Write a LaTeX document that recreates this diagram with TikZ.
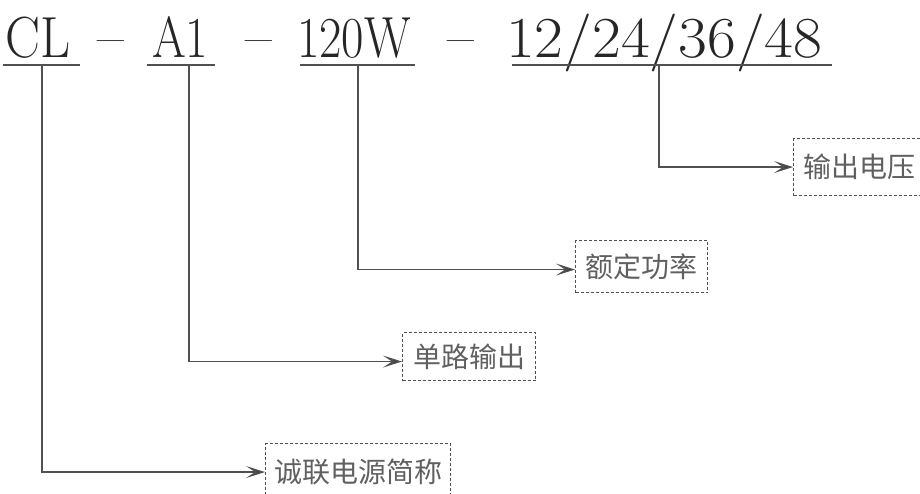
\documentclass[tikz,border=0pt]{standalone}
\usepackage{fontspec}
\newfontfamily\cjk{Noto Sans CJK SC}
\usetikzlibrary{arrows.meta}
\definecolor{ln}{HTML}{505050}
\definecolor{tx}{HTML}{606060}
\begin{document}
\begin{tikzpicture}[x=1pt,y=-1pt,
  code/.style={anchor=base west, inner sep=0, font=\fontsize{58}{62}\selectfont, text=black!85},
  uline/.style={line width=1.4pt, draw=ln},
  lbl/.style={draw=ln, dash pattern=on 3pt off 2pt, line width=1.1pt, inner sep=0,
    font=\cjk\fontsize{28}{30}\selectfont, text=tx, anchor=north west},
  conn/.style={draw=ln, line width=1.3pt, -{Stealth[length=19pt,width=12pt,inset=9pt,fill=black!75]}}]
\useasboundingbox (0,0) rectangle (920,494);
% code parts
\node[code] (cl)  at (5,58)   {\scalebox{0.9}[1]{CL}};
\node[code] (d1)  at (97,57)  {–};
\node[code] (a1)  at (152,58) {\scalebox{0.84}[1]{A1}};
\node[code] (d2)  at (245,57) {–};
\node[code] (pw)  at (297,58) {\scalebox{0.84}[1]{120W}};
\node[code] (d3)  at (447,57) {–};
\node[code] (vo)  at (506,58) {\scalebox{1.08}[1]{12/24/36/48}};
% underlines
\coordinate (clL) at (3,65);   \coordinate (clR) at (80,65);  \coordinate (clJ) at (42,65);
\coordinate (a1L) at (147,65); \coordinate (a1R) at (215,65); \coordinate (a1J) at (189,65);
\coordinate (pwL) at (300,65); \coordinate (pwR) at (415,65); \coordinate (pwJ) at (358,65);
\coordinate (voL) at (512,65); \coordinate (voR) at (832,65); \coordinate (voJ) at (659,65);
\draw[uline] (clL) -- (clR);
\draw[uline] (a1L) -- (a1R);
\draw[uline] (pwL) -- (pwR);
\draw[uline] (voL) -- (voR);
% label boxes
\node[lbl, minimum width=185, minimum height=57] (b1) at (265,443) {诚联电源简称};
\node[lbl, minimum width=133, minimum height=48] (b2) at (402,332) {单路输出};
\node[lbl, minimum width=132, minimum height=52] (b3) at (575,240) {额定功率};
\node[lbl, minimum width=132, minimum height=57] (b4) at (793,138) {输出电压};
% connectors
\draw[conn] (clJ) |- (b1.west);
\draw[conn] (a1J) |- ([yshift=-5pt]b2.west);
\draw[conn] (pwJ) |- ([yshift=-3pt]b3.west);
\draw[conn] (voJ) |- (b4.west);
\end{tikzpicture}
\end{document}
